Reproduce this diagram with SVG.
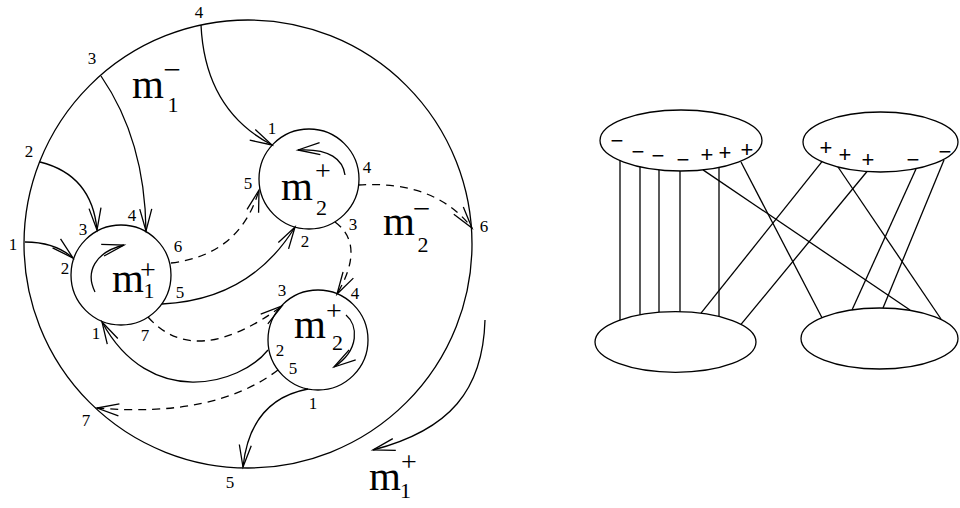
<svg xmlns="http://www.w3.org/2000/svg" width="960" height="508" viewBox="0 0 960 508">
<defs>
<marker id="ah" markerUnits="userSpaceOnUse" markerWidth="30" markerHeight="20" viewBox="-26 -10 30 20" refX="0" refY="0" orient="auto" overflow="visible"><path d="M-22,-6 L0,0 L-22,6" fill="none" stroke="#000" stroke-width="1.3"/></marker>
</defs>
<style>
.ln{fill:none;stroke:#000;stroke-width:1.3}
.ds{fill:none;stroke:#000;stroke-width:1.3;stroke-dasharray:8 6}
.n{font-family:"Liberation Serif",serif;font-size:17px;text-anchor:middle}
.m{font-family:"Liberation Serif",serif;font-size:41px}
.sp{font-family:"Liberation Serif",serif;font-size:28px;text-anchor:middle}
.mi{font-family:"Liberation Serif",serif;font-size:31px;text-anchor:middle}
.sb{font-family:"Liberation Serif",serif;font-size:22px;text-anchor:middle}
.s{font-family:"Liberation Sans",sans-serif;font-size:22px;text-anchor:middle}
</style>
<rect width="960" height="508" fill="#fff"/>

<g id="outer">
<circle class="ln" cx="248" cy="244" r="224"/>
<text class="n" x="199" y="18">4</text>
<text class="n" x="92" y="64">3</text>
<text class="n" x="29" y="157">2</text>
<text class="n" x="13" y="250">1</text>
<text class="n" x="484" y="232">6</text>
<text class="n" x="86" y="426">7</text>
<text class="n" x="230" y="488">5</text>
<text class="m" x="132" y="98">m</text><text class="mi" x="172" y="80">−</text><text class="sb" x="173" y="112">1</text>
<text class="m" x="383" y="235">m</text><text class="mi" x="421.5" y="219">−</text><text class="sb" x="423" y="252">2</text>
<text class="m" x="369" y="490">m</text><text class="sp" x="409" y="470.5">+</text><text class="sb" x="405.5" y="498">1</text>
</g>

<g id="node-m1">
<circle class="ln" cx="121" cy="275" r="50"/>
<text class="m" x="112" y="292">m</text><text class="sp" x="148" y="278.5">+</text><text class="sb" x="149" y="298">1</text>
<path class="ln" d="M95,292 C85,272 95,252 124,245" marker-end="url(#ah)"/>
<text class="n" x="83" y="235">3</text>
<text class="n" x="132" y="221">4</text>
<text class="n" x="178" y="252">6</text>
<text class="n" x="180" y="298">5</text>
<text class="n" x="145" y="341">7</text>
<text class="n" x="96" y="339">1</text>
<text class="n" x="65" y="274">2</text>
</g>

<g id="node-m2-top">
<circle class="ln" cx="309" cy="179" r="50"/>
<text class="m" x="281" y="200">m</text><text class="sp" x="323" y="180">+</text><text class="sb" x="321.5" y="215">2</text>
<path class="ln" d="M345,175 C343,160 330,148 298,150" marker-end="url(#ah)"/>
<text class="n" x="272" y="134">1</text>
<text class="n" x="248" y="189">5</text>
<text class="n" x="367" y="173">4</text>
<text class="n" x="353" y="230">3</text>
<text class="n" x="305" y="247">2</text>
</g>

<g id="node-m2-bottom">
<circle class="ln" cx="318" cy="340" r="50"/>
<text class="m" x="294" y="338">m</text><text class="sp" x="334" y="320">+</text><text class="sb" x="337.5" y="350">2</text>
<path class="ln" d="M346,315 C358,325 360,350 334,367" marker-end="url(#ah)"/>
<text class="n" x="282" y="296">3</text>
<text class="n" x="355" y="299">4</text>
<text class="n" x="280" y="356">2</text>
<text class="n" x="293" y="374">5</text>
<text class="n" x="313" y="409">1</text>
</g>

<g id="connectors-left">
<path class="ln" d="M25,242 Q55,242 73,258" marker-end="url(#ah)"/>
<path class="ln" d="M40,162 Q92,175 97,230" marker-end="url(#ah)"/>
<path class="ln" d="M101,76 Q145,140 146,231" marker-end="url(#ah)"/>
<path class="ln" d="M201,25 Q205,110 272,145" marker-end="url(#ah)"/>
<path class="ds" d="M171,263 Q240,255 259,190" marker-end="url(#ah)"/>
<path class="ln" d="M162,304 Q250,300 295,227" marker-end="url(#ah)"/>
<path class="ds" d="M358,185 Q435,180 472,228" marker-end="url(#ah)"/>
<path class="ds" d="M335,222 Q366,245 337,294" marker-end="url(#ah)"/>
<path class="ds" d="M148,317 Q195,370 282,306" marker-end="url(#ah)"/>
<path class="ln" d="M268,350 C240,385 150,410 102,322" marker-end="url(#ah)"/>
<path class="ds" d="M278,370 Q215,418 97,408" marker-end="url(#ah)"/>
<path class="ln" d="M308,389 Q250,400 243,467" marker-end="url(#ah)"/>
<path class="ln" d="M485,320 C483,390 450,430 373,450" marker-end="url(#ah)"/>
</g>

<g id="ellipse-top-left">
<ellipse class="ln" cx="681" cy="140.5" rx="81" ry="30.5"/>
<text class="s" x="617" y="147.5">−</text>
<text class="s" x="638" y="158.5">−</text>
<text class="s" x="658" y="162.5">−</text>
<text class="s" x="683" y="166.5">−</text>
<text class="s" x="707" y="161.5">+</text>
<text class="s" x="725" y="159.5">+</text>
<text class="s" x="747" y="156.5">+</text>
</g>
<g id="ellipse-top-right">
<ellipse class="ln" cx="880.5" cy="142" rx="77.5" ry="30"/>
<text class="s" x="826" y="154.5">+</text>
<text class="s" x="845" y="161.5">+</text>
<text class="s" x="868" y="166.5">+</text>
<text class="s" x="913" y="166.5">−</text>
<text class="s" x="945" y="158.5">−</text>
</g>
<g id="ellipse-bottom-left">
<ellipse class="ln" cx="675.5" cy="342" rx="80.5" ry="30.3"/>
</g>
<g id="ellipse-bottom-right">
<ellipse class="ln" cx="879.5" cy="338.5" rx="78.5" ry="30.5"/>
</g>

<g id="connectors-right" class="ln">
<line x1="620" y1="160.6" x2="620" y2="320"/>
<line x1="640" y1="166.8" x2="640" y2="314.8"/>
<line x1="659" y1="169.9" x2="659" y2="312.3"/>
<line x1="680" y1="171" x2="680" y2="311.7"/>
<line x1="719" y1="167.4" x2="719" y2="316.5"/>
<line x1="703" y1="169.9" x2="910" y2="310"/>
<line x1="741" y1="162" x2="822" y2="317.8"/>
<line x1="822" y1="161.7" x2="701" y2="313.2"/>
<line x1="838" y1="167" x2="941" y2="319"/>
<line x1="867" y1="171.5" x2="741" y2="324.4"/>
<line x1="916" y1="169" x2="852" y2="310"/>
<line x1="944" y1="160" x2="883" y2="308"/>
</g>
</svg>
